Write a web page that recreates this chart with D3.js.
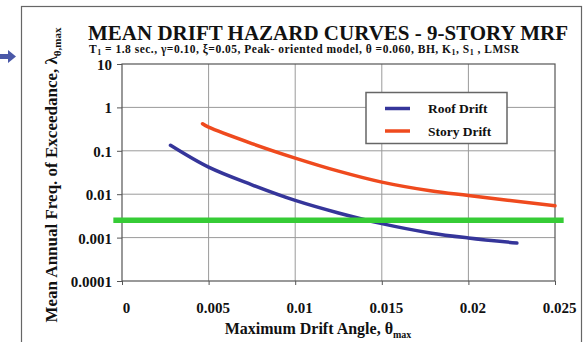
<!DOCTYPE html>
<html>
<head>
<meta charset="utf-8">
<script src="https://cdn.jsdelivr.net/npm/d3@7"></script>
<style>
  html, body { margin: 0; padding: 0; background: #fff; }
  svg { display: block; }
  text { font-family: "Liberation Serif", "Times New Roman", serif; font-weight: bold; fill: #111; }
</style>
</head>
<body>
<svg id="chart" width="587" height="342"></svg>
<script>
// Drift angle tick values and labels
const xTicks = [0, 0.005, 0.01, 0.015, 0.02, 0.025];
const xTickLabels = ["0", "0.005", "0.01", "0.015", "0.02", "0.025"];
const yTicks = [10, 1, 0.1, 0.01, 0.001, 0.0001];
const yTickLabels = ["10", "1", "0.1", "0.01", "0.001", "0.0001"];

// Roof drift hazard curve
const roofTheta = [0.0028, 0.005, 0.0075, 0.01, 0.0125, 0.015, 0.0178, 0.02, 0.0228];
const roofRate  = [0.134, 0.042, 0.0165, 0.0072, 0.0037, 0.0021, 0.00128, 0.00098, 0.00075];

// Story drift hazard curve
const storyTheta = [0.00465, 0.005, 0.0075, 0.01, 0.0125, 0.015, 0.0178, 0.02, 0.025];
const storyRate  = [0.42, 0.35, 0.147, 0.068, 0.034, 0.019, 0.012, 0.0093, 0.0054];

// Horizontal reference level
const thresholdRate = 0.0025;
const thresholdSpan = [-0.0005, 0.0255];

const seriesNames = ["Roof Drift", "Story Drift"];
const seriesColors = ["#35359a", "#ef4a1e"];

const svg = d3.select("#chart");
const plot = { left: 122, right: 555, top: 64, bottom: 281 };

const x = d3.scaleLinear().domain([0, 0.025]).range([plot.left, plot.right]);
const y = d3.scaleLog().domain([0.0001, 10]).range([plot.bottom, plot.top]);

// Outer frame
svg.append("rect")
  .attr("x", 21.5).attr("y", 6.5).attr("width", 560).attr("height", 340)
  .attr("fill", "none").attr("stroke", "#666").attr("stroke-width", 1.2);

// Pointer arrow at the left margin
svg.append("path")
  .attr("d", "M0,54 L8,54 L8,50 L16,56.5 L8,63 L8,59 L0,59 Z")
  .attr("fill", "#4a58a8");

// Gridlines
const grid = svg.append("g");
grid.selectAll("line.v").data(xTicks.slice(1, -1)).join("line")
  .attr("x1", d => x(d)).attr("x2", d => x(d))
  .attr("y1", plot.top).attr("y2", plot.bottom)
  .attr("stroke", "#9a9a9a").attr("stroke-width", 1);
grid.selectAll("line.h").data(yTicks.slice(1, -1)).join("line")
  .attr("x1", plot.left).attr("x2", plot.right)
  .attr("y1", d => y(d)).attr("y2", d => y(d))
  .attr("stroke", "#9a9a9a").attr("stroke-width", 1);

// Plot border
svg.append("rect")
  .attr("x", plot.left).attr("y", plot.top)
  .attr("width", plot.right - plot.left).attr("height", plot.bottom - plot.top)
  .attr("fill", "none").attr("stroke", "#555").attr("stroke-width", 1.2);

// Axes
const xAxis = d3.axisBottom(x).tickValues(xTicks).tickSize(4)
  .tickFormat((d, i) => xTickLabels[i]);
const gx = svg.append("g").attr("transform", `translate(0,${plot.bottom})`).call(xAxis);
gx.select(".domain").remove();
gx.selectAll(".tick line").attr("stroke", "#555");
gx.selectAll(".tick text")
  .attr("dy", 0).attr("y", 32).attr("dx", 4)
  .style("font-size", "15px").attr("fill", "#111");

const yAxis = d3.axisLeft(y).tickValues(yTicks).tickSize(5)
  .tickFormat((d, i) => yTickLabels[i]);
const gy = svg.append("g").attr("transform", `translate(${plot.left},0)`).call(yAxis);
gy.select(".domain").remove();
gy.selectAll(".tick line").attr("stroke", "#555");
gy.selectAll(".tick text")
  .attr("x", -10).attr("dy", "0.36em")
  .style("font-size", "15px").attr("fill", "#111");

// Hazard curves
const line = d3.line().x(d => x(d[0])).y(d => y(d[1])).curve(d3.curveCatmullRom.alpha(0.5));
const roofData = roofTheta.map((t, i) => [t, roofRate[i]]);
const storyData = storyTheta.map((t, i) => [t, storyRate[i]]);

svg.append("path").datum(roofData).attr("d", line)
  .attr("fill", "none").attr("stroke", seriesColors[0]).attr("stroke-width", 3.5)
  .attr("stroke-linecap", "round");
svg.append("path").datum(storyData).attr("d", line)
  .attr("fill", "none").attr("stroke", seriesColors[1]).attr("stroke-width", 3.5)
  .attr("stroke-linecap", "round");

// Reference level line
svg.append("line")
  .attr("x1", x(thresholdSpan[0])).attr("x2", x(thresholdSpan[1]))
  .attr("y1", y(thresholdRate)).attr("y2", y(thresholdRate))
  .attr("stroke", "#36cc36").attr("stroke-width", 5.5);

// Legend
const legend = svg.append("g");
legend.append("rect")
  .attr("x", 366).attr("y", 92.5).attr("width", 141).attr("height", 51)
  .attr("fill", "#fff").attr("stroke", "#666").attr("stroke-width", 1.5);
seriesNames.forEach((name, i) => {
  const yy = 108.5 + i * 22.5;
  legend.append("line")
    .attr("x1", 385).attr("x2", 410).attr("y1", yy).attr("y2", yy)
    .attr("stroke", seriesColors[i]).attr("stroke-width", 3.5);
  legend.append("text")
    .attr("x", 428).attr("y", yy + 4.5)
    .style("font-size", "13.5px").text(name);
});

// Titles
svg.append("text")
  .attr("x", 88).attr("y", 40)
  .attr("textLength", 480).attr("lengthAdjust", "spacingAndGlyphs")
  .style("font-size", "20px")
  .text("MEAN DRIFT HAZARD CURVES  -  9-STORY MRF");

const sub = svg.append("text")
  .attr("x", 89).attr("y", 53)
  .attr("textLength", 430).attr("lengthAdjust", "spacing")
  .style("font-size", "11.5px");
sub.append("tspan").text("T");
sub.append("tspan").attr("dy", 2).style("font-size", "8px").text("1");
sub.append("tspan").attr("dy", -2).text(" = 1.8 sec., γ=0.10, ξ=0.05, Peak- oriented model, θ =0.060, BH, K");
sub.append("tspan").attr("dy", 2).style("font-size", "8px").text("1");
sub.append("tspan").attr("dy", -2).text(", S");
sub.append("tspan").attr("dy", 2).style("font-size", "8px").text("1");
sub.append("tspan").attr("dy", -2).text(" , LMSR");

// X axis title
const xt = svg.append("text")
  .attr("x", 318).attr("y", 334).attr("text-anchor", "middle")
  .style("font-size", "16px");
xt.append("tspan").text("Maximum Drift Angle, θ");
xt.append("tspan").attr("dy", 4).style("font-size", "10px").text("max");

// Y axis title
const yt = svg.append("text")
  .attr("transform", "translate(57,175) rotate(-90)")
  .attr("text-anchor", "middle")
  .style("font-size", "17px");
yt.append("tspan").text("Mean Annual Freq. of Exceedance, λ");
yt.append("tspan").attr("dy", 4).style("font-size", "11px").text("θ,max");
</script>
</body>
</html>
